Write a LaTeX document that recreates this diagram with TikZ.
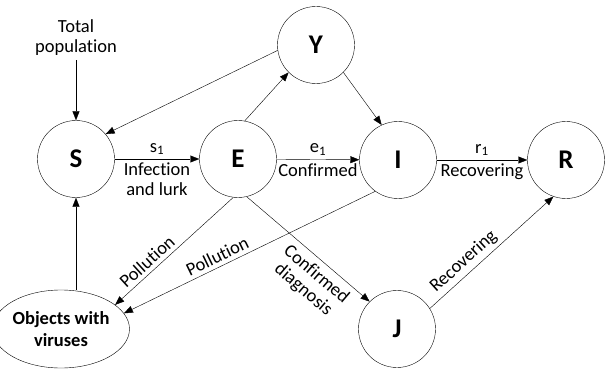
\documentclass[tikz,border=0pt]{standalone}
\usepackage{fontspec}
\setmainfont{Carlito}[Ligatures=NoCommon]
\usetikzlibrary{arrows.meta,shapes.geometric}

\tikzset{
  state/.style={circle,draw,thin,minimum size=77pt,inner sep=0pt,font=\fontsize{27}{29}\selectfont\bfseries},
  flow/.style={thin,-{Triangle[length=9pt,width=7pt]}},
  lbl/.style={font=\fontsize{18.5}{20}\selectfont,inner sep=4pt}
}

\begin{document}
\begin{tikzpicture}[x=1pt,y=-1pt]
\useasboundingbox (0,0) rectangle (605,377);
\node[state] (S) at (76,159) {S};
\node[state] (E) at (238,159) {E};
\node[state] (Y) at (316,45) {Y};
\node[state] (I) at (398,160) {I};
\node[state] (R) at (566,160) {R};
\node[state] (J) at (397,329) {J};
\node[ellipse,draw,thin,minimum width=110pt,minimum height=78pt,inner sep=0pt,align=center,
  font=\fontsize{18.5}{22}\selectfont\bfseries] (O) at (61,329) {Objects with\\viruses};
\node[lbl,align=center] (tp) at (76,38) {Total\\population};

\draw[flow] (tp) -- (S);
\draw[flow] (Y.188) -- (S.40);
\draw[flow] (E.80) -- (Y.225);
\draw[flow] (Y.315) -- (I.115);
\draw[flow] (S) -- node[lbl,above] {s\textsubscript{1}} node[lbl,below,align=center] {Infection\\and lurk} (E);
\draw[flow] (E) -- node[lbl,above] {e\textsubscript{1}} node[lbl,below] {Confirmed} (I);
\draw[flow] (I) -- node[lbl,above] {r\textsubscript{1}} node[lbl,below] {Recovering} (R);
\draw[flow] (O.north -| S.south) -- (S.south);
\draw[flow] (E.263) -- node[lbl,pos=0.67,above,sloped] {Pollution} (O.24);
\draw[flow] (I.234) -- node[lbl,pos=0.61,above,sloped] {Pollution} (O.14);
\draw[flow] (E.283) -- node[lbl,pos=0.64,below=2pt,sloped,align=center] {Confirmed\\diagnosis} (J.135);
\draw[flow] (J.32) -- node[lbl,pos=0.34,above,sloped] {Recovering} (R.251);
\end{tikzpicture}
\end{document}
